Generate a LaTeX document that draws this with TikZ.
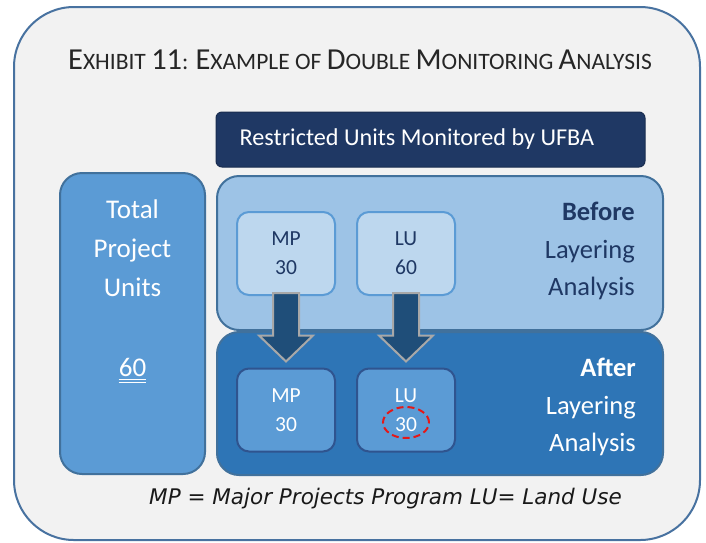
\documentclass[tikz,border=0pt]{standalone}
\usepackage{fontspec}
\setmainfont{Carlito}
\newfontfamily\notefont{DejaVu Sans}
\usetikzlibrary{calc,shapes.geometric}
\definecolor{frameblue}{RGB}{72,114,160}
\definecolor{panelgrey}{RGB}{242,242,242}
\definecolor{navy}{RGB}{31,56,100}
\definecolor{midblue}{RGB}{91,155,213}
\definecolor{lightblue}{RGB}{157,195,230}
\definecolor{paleblue}{RGB}{189,215,238}
\definecolor{deepblue}{RGB}{46,117,182}
\definecolor{arrowblue}{RGB}{31,78,121}
\definecolor{edgeblue}{RGB}{65,113,156}
\definecolor{darkedge}{RGB}{47,84,143}
\definecolor{arrowedge}{RGB}{168,168,168}
\definecolor{markred}{RGB}{228,24,24}
% big capitals inside small-caps style title
\newcommand\Bc[1]{{\fontsize{30.5}{30}\selectfont #1}}
\begin{document}
\begin{tikzpicture}[x=1pt,y=-1pt,
  panel/.style={draw=edgeblue,line width=2pt,rounded corners=22pt,inner sep=0pt},
  unitbox/.style={line width=2pt,rounded corners=12pt,minimum width=98pt,minimum height=83pt,
    align=center,font=\fontsize{21.5}{29}\selectfont,inner sep=0pt},
  beforeunit/.style={unitbox,draw=midblue,fill=paleblue,text=navy},
  afterunit/.style={unitbox,draw=darkedge,fill=midblue,text=white},
  sidelabel/.style={align=right,anchor=north east,font=\fontsize{26.5}{37.5}\selectfont,inner sep=0pt},
  blockarrow/.style={draw=arrowedge,fill=arrowblue,line width=2pt,line join=miter}]
\fill[white] (0,0) rectangle (706,542);
\useasboundingbox (0,0) rectangle (706,542);

% outer frame
\draw[frameblue,line width=2pt,fill=panelgrey,rounded corners=60pt] (14,7) rectangle (700,540);

% title
\node[inner sep=0pt,text=black!85] (title) at (360,60)
  {\fontsize{23.5}{24}\selectfont \Bc{E}XHIBIT \Bc{11}: \Bc{E}XAMPLE OF \Bc{D}OUBLE \Bc{M}ONITORING \Bc{A}NALYSIS};

% header bar
\node[fill=navy,draw=navy!80!black,line width=1pt,rounded corners=6pt,minimum width=429pt,minimum height=55pt] (ufba) at (430.5,139.5) {};
\node[text=white,font=\fontsize{24.2}{26}\selectfont,anchor=west,inner sep=0pt] (ufbatxt)
  at ($(ufba.west)+(24,0)$) {Restricted Units Monitored by UFBA};

% total units column
\node[panel,fill=midblue,minimum width=145pt,minimum height=301pt] (total) at (132.5,323.5) {};
\node[text=white,align=center,font=\fontsize{27}{39}\selectfont,anchor=north,inner sep=0pt] (totaltxt)
  at ($(total.north)+(0,28)$) {Total\\Project\\Units};
\node[text=white,font=\fontsize{27}{27}\selectfont,inner sep=0pt] (sixty) at (132.5,367) {60};
\draw[white,line width=1pt] ($(sixty.south west)+(0,3)$) -- ($(sixty.south east)+(0,3)$)
  ($(sixty.south west)+(0,6)$) -- ($(sixty.south east)+(0,6)$);

% before / after panels
\node[panel,fill=lightblue,minimum width=446pt,minimum height=154pt] (before) at (440,253) {};
\node[panel,fill=deepblue,minimum width=446pt,minimum height=143pt] (after) at (440,403.5) {};

\node[sidelabel,text=navy] (beforetxt) at ($(before.north east)+(-29,27)$) {\textbf{Before}\\Layering\\Analysis};
\node[sidelabel,text=white] (aftertxt) at ($(after.north east)+(-28,27)$) {\textbf{After}\\Layering\\Analysis};

% unit boxes
\node[beforeunit] (mpb) at (286,253.5) {MP\\30};
\node[beforeunit] (lub) at (406,253.5) {LU\\60};
\node[afterunit] (mpa) at (286,410) {MP\\30};
\node[afterunit] (lua) at (406,410) {LU\\30};

% block arrows from before to after
\foreach \s/\t in {mpb/mpa,lub/lua}{
  \draw[blockarrow] ($(\s.south)+(-13,-3)$) -- ($(\s.south)+(13,-3)$) -- ($(\t.north)+(13,-32)$)
    -- ($(\t.north)+(27,-32)$) -- ($(\t.north)+(0,-6)$) -- ($(\t.north)+(-27,-32)$)
    -- ($(\t.north)+(-13,-32)$) -- cycle;
}

% highlight of the reduced count
\node[ellipse,draw=markred,line width=2pt,dash pattern=on 7pt off 4pt,minimum width=46pt,minimum height=31pt]
  (mark) at ($(lua.center)+(0,12.5)$) {};

% legend
\node[font=\notefont\itshape\fontsize{21.5}{24}\selectfont,text=black!90,inner sep=0pt] (legend) at (385.5,499)
  {MP = Major Projects Program LU= Land Use};
\end{tikzpicture}
\end{document}
